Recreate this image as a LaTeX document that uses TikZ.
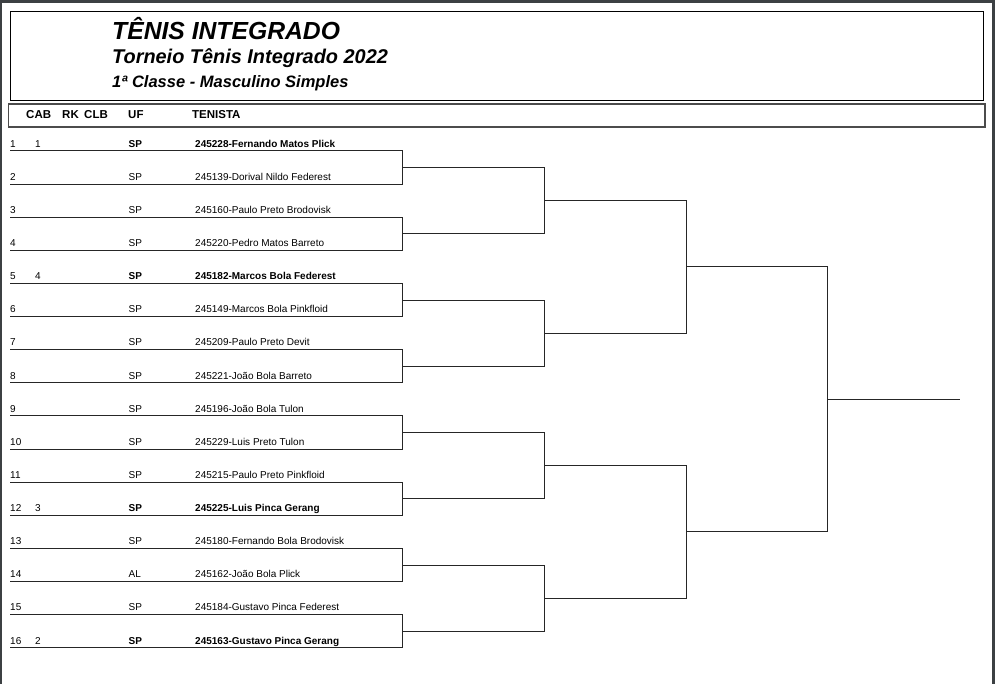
\documentclass[tikz,border=0pt]{standalone}
\usepackage{fontspec}
\setmainfont{Liberation Sans}
\usetikzlibrary{calc}
\definecolor{framegray}{RGB}{60,64,67}
\begin{document}
\begin{tikzpicture}[x=1pt,y=-1pt,
  rowtxt/.style={anchor=base west,inner sep=0pt,font=\fontsize{10}{12}\selectfont},
  hdr/.style={anchor=base west,inner sep=0pt,font=\fontsize{11.5}{13}\selectfont\bfseries},
  ttl/.style={anchor=base west,inner sep=0pt},
  bline/.style={line width=1pt,black!85,line join=miter}]
\useasboundingbox (0,0) rectangle (995,684);
\fill[white] (0,0) rectangle (995,684);
\fill[framegray] (0,0) rectangle (995,3);
\fill[framegray] (0,0) rectangle (2,684);
\fill[framegray] (992,0) rectangle (995,684);
% title box
\draw[line width=1pt] (10.7,11.7) rectangle (983,100.7);
\node[ttl,font=\fontsize{24.7}{28}\selectfont\bfseries\itshape] (t1) at (112,39.5) {TÊNIS INTEGRADO};
\node[ttl,font=\fontsize{19.9}{23}\selectfont\bfseries\itshape] (t2) at (112,63.3) {Torneio Tênis Integrado 2022};
\node[ttl,font=\fontsize{16.5}{19}\selectfont\bfseries\itshape] (t3) at (112,87.3) {1ª Classe - Masculino Simples};
% header box
\draw[line width=1.2pt,black!70] (8.3,104) rectangle (985,127);
\node[hdr] (hcab) at (26,118.3) {CAB};
\node[hdr] (hrk) at (62,118.3) {RK};
\node[hdr] (hclb) at (84,118.3) {CLB};
\node[hdr] (huf) at (128,118.3) {UF};
\node[hdr] (hten) at (192,118.3) {TENISTA};
% rows
\foreach \i/\s/\u/\nm/\b in {
 1/1/SP/245228-Fernando Matos Plick/1,
 2//SP/245139-Dorival Nildo Federest/0,
 3//SP/245160-Paulo Preto Brodovisk/0,
 4//SP/245220-Pedro Matos Barreto/0,
 5/4/SP/245182-Marcos Bola Federest/1,
 6//SP/245149-Marcos Bola Pinkfloid/0,
 7//SP/245209-Paulo Preto Devit/0,
 8//SP/245221-João Bola Barreto/0,
 9//SP/245196-João Bola Tulon/0,
 10//SP/245229-Luis Preto Tulon/0,
 11//SP/245215-Paulo Preto Pinkfloid/0,
 12/3/SP/245225-Luis Pinca Gerang/1,
 13//SP/245180-Fernando Bola Brodovisk/0,
 14//AL/245162-João Bola Plick/0,
 15//SP/245184-Gustavo Pinca Federest/0,
 16/2/SP/245163-Gustavo Pinca Gerang/1}{
  \pgfmathsetmacro\yy{151+33.12*(\i-1)}
  \pgfmathsetmacro\yt{\yy-3.8}
  \node[rowtxt] (num\i) at (10,\yt) {\i};
  \node[rowtxt] (cab\i) at (35,\yt) {\s};
  \node[rowtxt] (uf\i) at (128.5,\yt) {\ifnum\b=1\bfseries\fi\u};
  \node[rowtxt] (nm\i) at (195,\yt) {\ifnum\b=1\bfseries\fi\nm};
  \coordinate (L\i) at (10,\yy);
  \coordinate (R\i) at (402.7,\yy);
}
% round 1
\foreach \p in {1,...,8}{
  \pgfmathtruncatemacro\o{2*\p-1}
  \pgfmathtruncatemacro\e{2*\p}
  \draw[bline] (L\o) -- (R\o) -- (R\e) -- (L\e);
  \coordinate (a\p) at ($(R\o)!0.5!(R\e)$);
  \path (a\p) -- ++(141.3,0) coordinate (b\p);
}
% round 2
\foreach \q in {1,...,4}{
  \pgfmathtruncatemacro\o{2*\q-1}
  \pgfmathtruncatemacro\e{2*\q}
  \draw[bline] (a\o) -- (b\o) -- (b\e) -- (a\e);
  \coordinate (c\q) at ($(b\o)!0.5!(b\e)$);
  \path (c\q) -- ++(142,0) coordinate (d\q);
}
% round 3
\foreach \r in {1,2}{
  \pgfmathtruncatemacro\o{2*\r-1}
  \pgfmathtruncatemacro\e{2*\r}
  \draw[bline] (c\o) -- (d\o) -- (d\e) -- (c\e);
  \coordinate (e\r) at ($(d\o)!0.5!(d\e)$);
  \path (e\r) -- ++(141.3,0) coordinate (f\r);
}
% final
\draw[bline] (e1) -- (f1) -- (f2) -- (e2);
\coordinate (g) at ($(f1)!0.5!(f2)$);
\path (g) -- ++(132.7,0) coordinate (champ);
\draw[bline] (g) -- (champ);
\end{tikzpicture}
\end{document}
